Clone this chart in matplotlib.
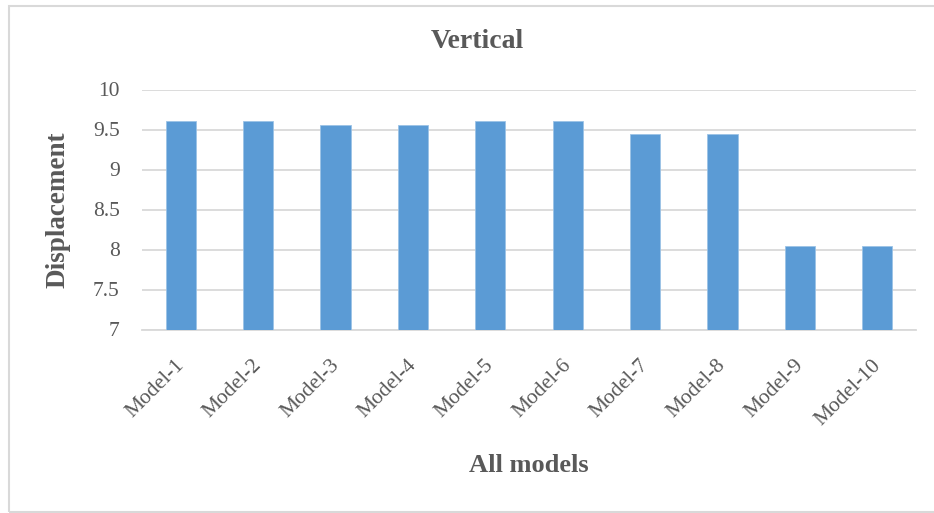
import matplotlib.pyplot as plt
import matplotlib.transforms as mtransforms
import numpy as np
from matplotlib.patches import Rectangle

# Vertical displacement per model
modelos = ["Model-1", "Model-2", "Model-3", "Model-4", "Model-5",
           "Model-6", "Model-7", "Model-8", "Model-9", "Model-10"]
deslocamento = [9.61, 9.61, 9.56, 9.56, 9.61, 9.61, 9.45, 9.45, 8.04, 8.04]
y_ticks = [7, 7.5, 8, 8.5, 9, 9.5, 10]

plt.rcParams['font.family'] = ['Liberation Serif', 'DejaVu Serif']
cor_texto = '#595959'
cor_grade = '#d9d9d9'

fig = plt.figure(figsize=(9.34, 5.13), dpi=100)
ax = fig.add_axes([142 / 934, 1 - 329.5 / 513, (916 - 142) / 934, 240 / 513])

x = np.arange(len(modelos))
ax.bar(x, deslocamento, width=0.39, bottom=0, color='#5b9bd5',
       edgecolor='#9cc3e6', linewidth=0.6, zorder=3)

ax.set_xlim(-0.5, len(modelos) - 0.5)
ax.set_ylim(7, 10)
ax.set_yticks(y_ticks)
ax.set_yticklabels([f"{v:g}" for v in y_ticks], fontsize=15.5, color=cor_texto)
ax.set_xticks(x)
ax.set_xticklabels(modelos, rotation=45, ha='right', rotation_mode='anchor',
                   fontsize=15.5, color=cor_texto)
ax.tick_params(axis='both', length=0)
ax.tick_params(axis='y', pad=16)
ax.tick_params(axis='x', pad=19)

# desloca os rótulos inclinados um pouco para a esquerda
desloc = mtransforms.ScaledTranslation(-6 / 100, 0, fig.dpi_scale_trans)
for rotulo in ax.get_xticklabels():
    rotulo.set_transform(rotulo.get_transform() + desloc)

ax.grid(axis='y', color=cor_grade, linewidth=1.3, zorder=0)
for lado in ['top', 'right', 'left']:
    ax.spines[lado].set_visible(False)
ax.spines['bottom'].set_color(cor_grade)
ax.spines['bottom'].set_linewidth(1.3)

fig.text(477 / 934, 1 - 42 / 513, "Vertical", ha='center', va='center',
         fontsize=20, fontweight='bold', color=cor_texto)
fig.text(58 / 934, 1 - 210 / 513, "Displacement", ha='center', va='center',
         rotation=90, fontsize=19.5, fontweight='bold', color=cor_texto)
fig.text(529 / 934, 1 - 465 / 513, "All models", ha='center', va='center',
         fontsize=19, fontweight='bold', color=cor_texto)

# moldura do gráfico
fig.patches.append(Rectangle((9 / 934, 1 / 513), 940 / 934, (507 - 1) / 513,
                             transform=fig.transFigure, fill=False,
                             edgecolor=cor_grade, linewidth=1.5))

fig.savefig("out.png", dpi=100)
